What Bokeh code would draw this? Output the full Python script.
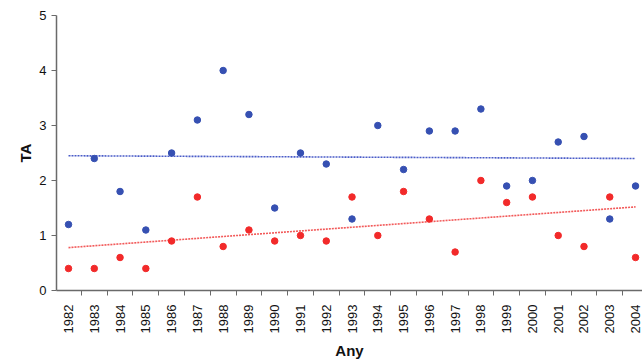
import numpy as np
from bokeh.plotting import figure
from bokeh.models import FixedTicker, Range1d
from bokeh.embed import file_html
from bokeh.resources import INLINE

years = list(range(1982, 2005))
blue_vals = [1.2, 2.4, 1.8, 1.1, 2.5, 3.1, 4.0, 3.2, 1.5, 2.5, 2.3, 1.3,
             3.0, 2.2, 2.9, 2.9, 3.3, 1.9, 2.0, 2.7, 2.8, 1.3, 1.9]
red_vals = [0.4, 0.4, 0.6, 0.4, 0.9, 1.7, 0.8, 1.1, 0.9, 1.0, 0.9, 1.7,
            1.0, 1.8, 1.3, 0.7, 2.0, 1.6, 1.7, 1.0, 0.8, 1.7, 0.6]
# trend lines (start year value, end year value)
trend_years = [1982, 2004]
blue_trend = [2.45, 2.40]
red_trend = [0.78, 1.52]
y_ticks = [0, 1, 2, 3, 4, 5]

BLUE = "#3650b2"
RED = "#f22a2a"
AXIS = "#6a6a6a"

p = figure(width=642, height=362, output_backend="svg", toolbar_location=None,
           x_range=Range1d(1981.534, 2004.27), y_range=Range1d(0, 5),
           min_border_left=56, min_border_right=0, min_border_top=15,
           min_border_bottom=10)
p.outline_line_color = None
p.xgrid.grid_line_color = None
p.ygrid.grid_line_color = None

p.line(trend_years, blue_trend, line_color="#4a5cc8", line_width=1.6, line_dash="2 1")
p.line(trend_years, red_trend, line_color="#f25a5a", line_width=1.6, line_dash="2 1")

p.scatter(years, blue_vals, size=6.5, color=BLUE)
p.scatter(years, red_vals, size=6.5, color=RED)

# x axis
p.xaxis.ticker = FixedTicker(ticks=years, minor_ticks=[yy - 0.5 for yy in years] + [2004.5])
p.xaxis.major_tick_line_color = None
p.xaxis.minor_tick_line_color = AXIS
p.xaxis.minor_tick_out = 5
p.xaxis.minor_tick_in = 0
p.xaxis.major_label_orientation = np.pi / 2
p.xaxis.major_label_text_font = "Liberation Sans"
p.xaxis.major_label_text_font_size = "13px"
p.xaxis.major_label_text_color = "#111111"
p.xaxis.axis_line_color = AXIS
p.xaxis.axis_line_width = 1.5
p.xaxis.axis_label = "Any"
p.xaxis.axis_label_text_font = "Liberation Sans"
p.xaxis.axis_label_text_font_style = "bold"
p.xaxis.axis_label_text_font_size = "15px"
p.xaxis.axis_label_text_color = "#111111"
p.xaxis.axis_label_standoff = 6
p.xaxis.major_label_standoff = 8

# y axis
p.yaxis.ticker = FixedTicker(ticks=y_ticks)
p.yaxis.minor_tick_line_color = None
p.yaxis.major_tick_out = 5
p.yaxis.major_tick_in = 0
p.yaxis.major_tick_line_color = AXIS
p.yaxis.axis_line_color = AXIS
p.yaxis.axis_line_width = 1.5
p.yaxis.major_label_text_font = "Liberation Sans"
p.yaxis.major_label_text_font_size = "13px"
p.yaxis.major_label_text_color = "#111111"
p.yaxis.axis_label = "TA"
p.yaxis.axis_label_text_font = "Liberation Sans"
p.yaxis.axis_label_text_font_style = "bold"
p.yaxis.axis_label_text_font_size = "15px"
p.yaxis.axis_label_text_color = "#111111"
p.yaxis.axis_label_standoff = 2

open("out.html", "w").write(file_html(p, INLINE))
